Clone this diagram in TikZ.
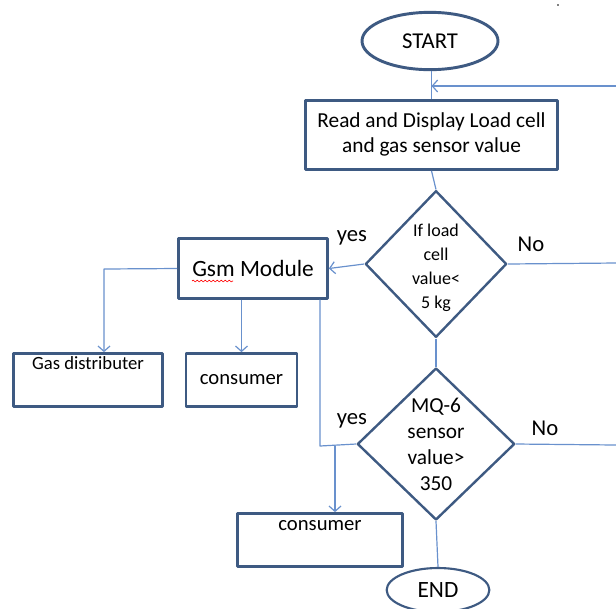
\documentclass[tikz,border=0pt]{standalone}
\usepackage{fontspec}
\setmainfont{Carlito}
\usetikzlibrary{shapes.geometric,arrows.meta,decorations.pathmorphing}
\definecolor{boxblue}{RGB}{62,90,130}
\definecolor{lineblue}{RGB}{105,145,205}
\newcommand{\fs}[1]{\fontsize{#1}{1.2\dimexpr#1pt\relax}\selectfont}
\tikzset{
  blk/.style={draw=boxblue, line width=1.8pt, rectangle, inner sep=0pt, align=center},
  term/.style={draw=boxblue, ellipse, inner sep=0pt},
  dec/.style={draw=boxblue, line width=1.8pt, diamond, inner sep=0pt},
  conn/.style={draw=lineblue, line width=0.9pt},
}
\begin{document}
\begin{tikzpicture}[x=0.75pt, y=-0.75pt, line join=round, >={Straight Barb[length=4pt,width=9pt]}]
\useasboundingbox (0,0) rectangle (616,608);
% terminals and boxes
\node[term, line width=2.2pt, minimum width=102pt, minimum height=43pt, font=\fs{17}] (start) at (430,41) {START};
\node[blk, minimum width=189pt, minimum height=52pt, font=\fs{16}] (read) at (431.5,135) {\raisebox{-2pt}{\begin{tabular}{@{}c@{}}Read and Display Load cell\\[-1pt]and gas sensor value\end{tabular}}};
\node[dec, minimum width=106pt, minimum height=110pt] (d1) at (436,264) {};
\node[align=center, font=\fontsize{13.5}{18}\selectfont] (d1t) at ([yshift=-3pt]d1) {If load\\cell\\value<\\5 kg};
\node[blk, minimum width=112pt, minimum height=45pt, font=\fs{17.5}] (gsm) at (253,268.5) {Gsm Module};
\node[blk, minimum width=112pt, minimum height=40pt, text height=10pt, text depth=26pt, font=\fs{14}] (gasd) at (88,380) {Gas distributer};
\node[blk, minimum width=83pt, minimum height=40pt, font=\fs{15.5}] (cons1) at (241.5,380) {consumer};
\node[dec, minimum width=118pt, minimum height=114pt] (d2) at (436,444) {};
\node[align=center, font=\fontsize{16}{19.5}\selectfont] (d2t) at (d2) {MQ-6\\sensor\\value>\\350};
\node[blk, minimum width=124pt, minimum height=40pt, text height=11pt, text depth=25pt, font=\fs{15.5}] (cons2) at (320,540) {consumer};
\node[term, line width=1.6pt, minimum width=77pt, minimum height=33pt, font=\fs{17.5}] (endn) at (438,590) {END};
% spell check mark
\draw[red, line width=0.5pt, decorate, decoration={snake, amplitude=0.7pt, segment length=3pt}] (192,281) -- (233,281);
% labels
\node[font=\fs{17}] (y1) at (352,238) {yes};
\node[font=\fs{17}] (n1) at (531,244) {No};
\node[font=\fs{17}] (y2) at (352,421) {yes};
\node[font=\fs{17}] (n2) at (545,428) {No};
\fill[black] (558,5) circle (0.6pt);
% connectors
\coordinate (fb) at (616,86);
\coordinate (e1) at (616,263);
\coordinate (e2) at (616,445);
\coordinate (j1) at (320,446);
\coordinate (j2) at (335,446);
\coordinate (j3) at (104,269);
\draw[conn] (read.north) -- (read.north |- start.south);
\draw[conn,->] (fb) -- (fb -| read.north);
\draw[conn] (read.south) -- (d1.north);
\draw[conn,->] (d1.west) -- (gsm.east);
\draw[conn] (d1.east) -- (e1);
\draw[conn] (d1.south) -- (d2.north);
\draw[conn] (d2.east) -- (e2);
\draw[conn] (d2.west) -- (j1) -- (j1 |- gsm.south);
\draw[conn,->] (j2) -- (j2 |- cons2.north);
\draw[conn,->] (gsm.west) -- (j3) -- (j3 |- gasd.north);
\draw[conn,->] (cons1.north |- gsm.south) -- (cons1.north);
\draw[conn] (d2.south) -- (endn.north);
\end{tikzpicture}
\end{document}
